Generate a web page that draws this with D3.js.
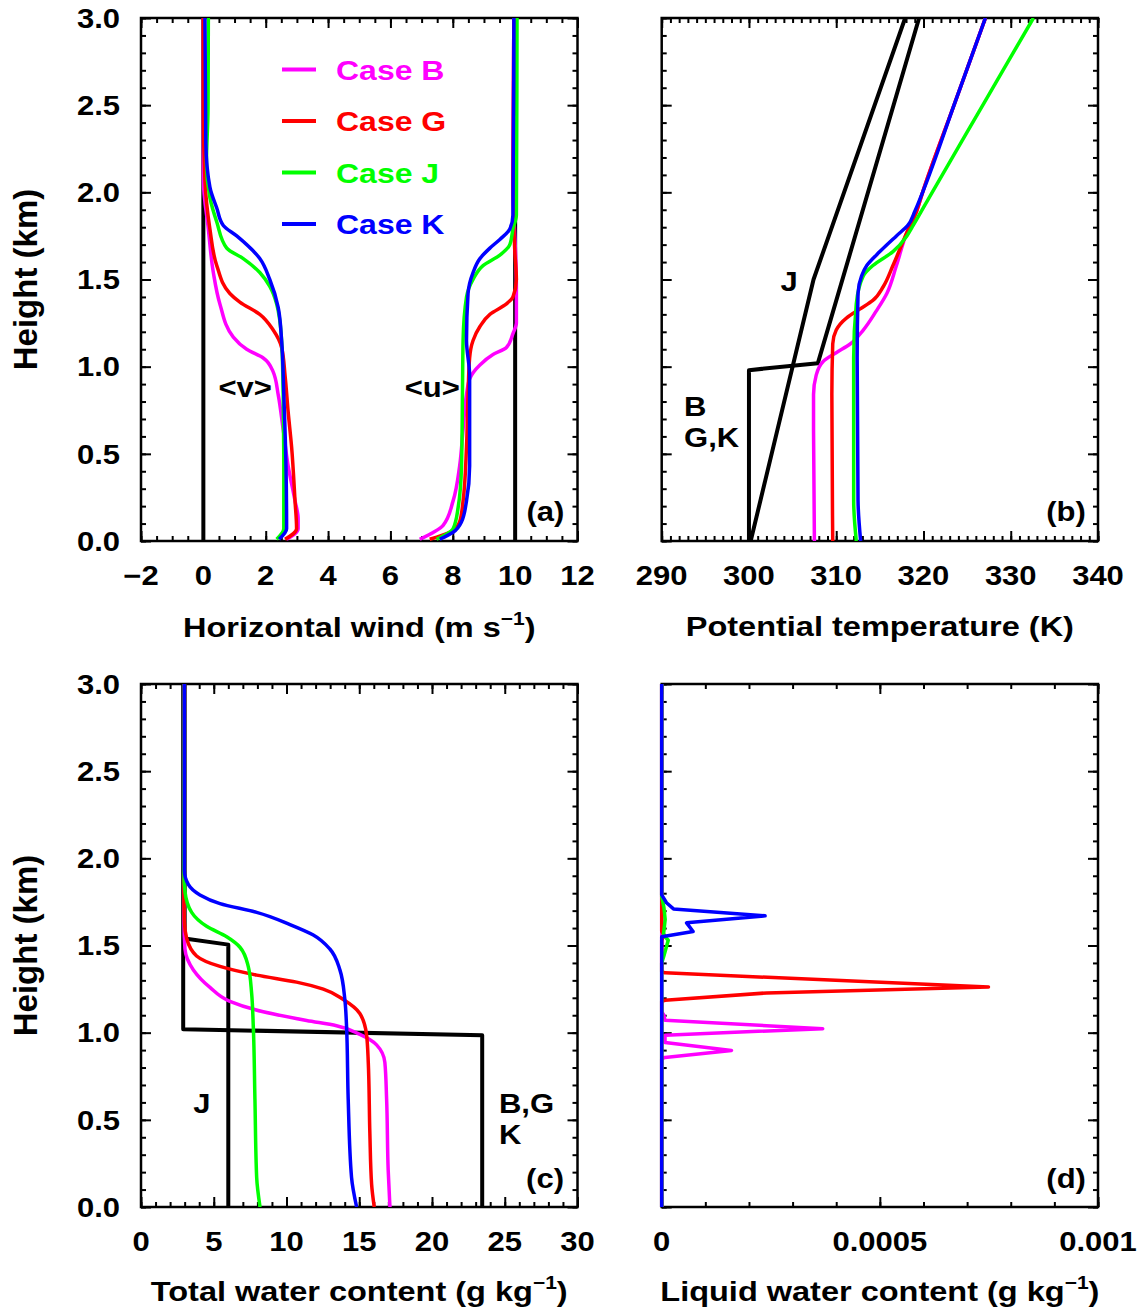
<!DOCTYPE html>
<html><head><meta charset="utf-8">
<script src="https://cdn.jsdelivr.net/npm/d3@7"></script>
<style>
body{margin:0;background:#fff}
svg{display:block}
text{font-family:"Liberation Sans",Arial,Helvetica,sans-serif;font-weight:bold;fill:#000}
</style>
</head><body>
<svg id="chart" width="1143" height="1315"></svg>
<script>
// ---------------- DATA ----------------
const heightTicks = [0, 0.5, 1, 1.5, 2, 2.5, 3];
const heightTickLabels = ["0.0", "0.5", "1.0", "1.5", "2.0", "2.5", "3.0"];
const windTicks = [-2, 0, 2, 4, 6, 8, 10, 12];
const windTickLabels = ["\u22122", "0", "2", "4", "6", "8", "10", "12"];
const thetaTicks = [290, 300, 310, 320, 330, 340];
const thetaTickLabels = ["290", "300", "310", "320", "330", "340"];
const qtTicks = [0, 5, 10, 15, 20, 25, 30];
const qtTickLabels = ["0", "5", "10", "15", "20", "25", "30"];
const qlTicks = [0, 0.0005, 0.001];
const qlTickLabels = ["0", "0.0005", "0.001"];
const caseNames = ["Case B", "Case G", "Case J", "Case K"];

// profiles: [value, height (km)]
// (a) horizontal wind
const vInit = [[0, 0], [0, 3]];
const uInit = [[10, 0], [10, 3]];
const vB = [[0.0,3.0],[0.0,2.07],[0.16,1.79],[0.32,1.54],[0.53,1.36],[0.96,1.17],[1.39,1.10],[1.92,1.05],[2.24,0.97],[2.40,0.84],[2.56,0.64],[2.72,0.43],[2.94,0.23],[3.04,0.13],[3.04,0.07],[2.67,0.01]];
const vG = [[0.0,3.0],[0.0,2.48],[0.05,2.07],[0.21,1.79],[0.43,1.58],[0.85,1.42],[1.17,1.37],[1.81,1.30],[2.24,1.21],[2.51,1.11],[2.62,0.95],[2.72,0.74],[2.83,0.54],[2.94,0.23],[2.99,0.07],[2.62,0.01]];
const vJ = [[0.16,3.0],[0.15,2.48],[0.10,2.17],[0.21,1.97],[0.43,1.83],[0.75,1.68],[1.28,1.62],[1.81,1.54],[2.13,1.46],[2.35,1.36],[2.51,1.15],[2.56,0.84],[2.58,0.43],[2.58,0.07],[2.35,0.01]];
const vK = [[0.05,3.0],[0.08,2.28],[0.21,2.03],[0.43,1.91],[0.64,1.81],[1.07,1.75],[1.81,1.62],[2.13,1.50],[2.40,1.34],[2.51,1.15],[2.58,0.84],[2.65,0.43],[2.67,0.07],[2.43,0.01]];
const uB = [[9.96,3.0],[9.93,2.07],[10.04,1.46],[10.04,1.25],[9.93,1.19],[9.72,1.11],[9.29,1.07],[8.87,1.01],[8.54,0.93],[8.44,0.84],[8.33,0.64],[8.22,0.43],[8.01,0.23],[7.69,0.09],[6.94,0.01]];
const uG = [[9.96,3.0],[9.93,2.07],[9.99,1.66],[10.04,1.50],[9.93,1.40],[9.72,1.36],[9.19,1.30],[8.87,1.23],[8.65,1.15],[8.54,1.05],[8.49,0.84],[8.44,0.54],[8.33,0.23],[8.22,0.11],[7.90,0.05],[7.26,0.01]];
const uJ = [[10.06,3.0],[10.04,1.87],[9.93,1.79],[9.83,1.70],[9.51,1.64],[8.97,1.58],[8.65,1.50],[8.44,1.40],[8.33,1.15],[8.31,0.84],[8.28,0.43],[8.17,0.19],[8.01,0.07],[7.48,0.01]];
const uK = [[9.96,3.0],[9.93,1.87],[9.83,1.79],[9.51,1.73],[9.19,1.68],[8.87,1.62],[8.65,1.54],[8.49,1.42],[8.44,1.15],[8.54,0.95],[8.54,0.74],[8.54,0.43],[8.44,0.23],[8.28,0.11],[8.01,0.05],[7.58,0.01]];

// (b) potential temperature
const thetaInitBGK = [[300.0,0.0],[300.0,0.98],[307.9,1.02],[319.5,3.0]];
const thetaInitJ = [[300.2,0.0],[307.4,1.5],[317.9,3.0]];
const thetaB = [[307.5,0.0],[307.4,0.64],[307.4,0.84],[307.7,0.95],[308.5,1.03],[310.0,1.08],[311.6,1.13],[313.1,1.21],[314.6,1.32],[315.8,1.42],[316.9,1.58],[318.1,1.77],[319.2,1.89],[319.9,2.0],[323.5,2.5],[327.1,3.0]];
const thetaG = [[309.6,0.0],[309.5,0.84],[309.6,1.13],[310.0,1.21],[311.2,1.28],[312.7,1.33],[314.2,1.38],[315.4,1.46],[316.5,1.58],[318.1,1.77],[319.2,1.89],[319.9,2.0],[323.5,2.5],[327.1,3.0]];
const thetaJ = [[312.3,0.0],[312.0,0.23],[312.0,1.05],[312.3,1.36],[313.1,1.52],[314.2,1.58],[316.5,1.66],[318.1,1.75],[318.7,1.80],[321.0,2.0],[326.8,2.5],[332.6,3.0]];
const thetaK = [[312.8,0.0],[312.5,0.23],[312.4,1.05],[312.5,1.42],[312.9,1.52],[313.5,1.58],[315.0,1.66],[316.9,1.75],[318.2,1.81],[319.0,1.89],[319.9,2.0],[323.5,2.5],[327.1,3.0]];

// (c) total water content
const qtInitBGK = [[23.45,0.0],[23.45,0.985],[2.9,1.02],[2.9,3.0]];
const qtInitJ = [[6.0,0.0],[6.0,1.505],[3.0,1.54],[3.0,3.0]];
const qtB = [[2.98,3.0],[2.95,1.64],[3.02,1.48],[3.60,1.36],[4.74,1.26],[6.11,1.18],[8.40,1.12],[11.38,1.07],[13.44,1.04],[15.04,0.99],[16.19,0.93],[16.76,0.83],[16.88,0.62],[16.99,0.21],[17.11,0.0]];
const qtG = [[2.98,3.0],[2.95,1.81],[2.98,1.64],[3.14,1.54],[3.82,1.44],[5.43,1.38],[7.95,1.33],[10.69,1.29],[12.53,1.25],[13.90,1.19],[15.04,1.11],[15.50,0.99],[15.62,0.83],[15.73,0.42],[15.85,0.13],[16.03,0.0]];
const qtJ = [[2.98,3.0],[2.95,1.91],[3.02,1.81],[3.48,1.69],[4.51,1.61],[5.89,1.55],[6.80,1.49],[7.37,1.38],[7.60,1.23],[7.72,1.03],[7.83,0.62],[7.95,0.17],[8.18,0.0]];
const qtK = [[2.98,3.0],[2.98,1.93],[3.25,1.85],[4.05,1.79],[5.43,1.74],[7.95,1.69],[10.24,1.62],[11.84,1.56],[12.98,1.48],[13.67,1.36],[14.01,1.19],[14.13,1.03],[14.24,0.62],[14.47,0.17],[14.82,0.0]];

// (d) liquid water content
const qlB = [[0,0.0],[0,0.85],[0.0000076,0.858],[0.00016,0.898],[0.0000076,0.944],[0.0000076,0.985],[0.000369,1.023],[0.0000076,1.071],[0.000005,1.10],[0,1.12],[0,3.0]];
const qlG = [[0,0.0],[0,1.18],[0.0000076,1.186],[0.000241,1.228],[0.000749,1.262],[0.0000076,1.343],[0,1.35],[0,1.53],[0.000006,1.56],[0,1.58],[0,3.0]];
const qlJ = [[0,0.0],[0,1.40],[0.000005,1.44],[0.000015,1.53],[0.000004,1.56],[0.000008,1.65],[0.000005,1.72],[0,1.78],[0,3.0]];
const qlK = [[0,0.0],[0,1.55],[0.000072,1.58],[0.000057,1.63],[0.000237,1.67],[0.000027,1.71],[0.000011,1.745],[0,1.79],[0,3.0]];

// ---------------- DRAWING ----------------
const COLORS = ["#ff00ff", "#ff0000", "#00ff00", "#0000ff"];
const svg = d3.select("#chart");
const SY = 0.87;          // vertical squash of the original lettering
const FS_TICK = 31, FS_TITLE = 32.5, FS_LEG = 32, FS_ANN = 31;

function stext(x, y, str, size, anchor, fill) {
  return svg.append("text")
    .attr("transform", `translate(${x},${y}) scale(1,${SY})`)
    .attr("text-anchor", anchor || "middle")
    .attr("font-size", size)
    .style("fill", fill || "#000")
    .text(str);
}

function title(cx, y, main, sup) {
  const t = svg.append("text")
    .attr("transform", `translate(${cx},${y}) scale(1,${SY})`)
    .attr("text-anchor", "middle")
    .attr("font-size", FS_TITLE);
  t.append("tspan").text(main);
  if (sup) {
    t.append("tspan").attr("font-size", 21).attr("dy", -14).text(sup);
    t.append("tspan").attr("font-size", FS_TITLE).attr("dy", 14).text(")");
  }
}

let clipId = 0;
function panel(box, xDom, xMaj, xMin, xLabels, labelY) {
  const x = d3.scaleLinear().domain(xDom).range([box.x0, box.x1]);
  const y = d3.scaleLinear().domain([0, 3]).range([box.y1, box.y0]);
  const g = svg.append("g");
  const yMin = d3.range(0, 31).map(i => i / 10);
  const sides = [
    [d3.axisBottom, x, `translate(0,${box.y1})`, xMaj, xMin],
    [d3.axisTop, x, `translate(0,${box.y0})`, xMaj, xMin],
    [d3.axisLeft, y, `translate(${box.x0},0)`, heightTicks, yMin],
    [d3.axisRight, y, `translate(${box.x1},0)`, heightTicks, yMin]
  ];
  sides.forEach(([ax, sc, tr, maj, min]) => {
    [[maj, -10], [min, -5]].forEach(([vals, size]) => {
      g.append("g").attr("transform", tr)
        .call(ax(sc).tickValues(vals).tickSize(size).tickSizeOuter(0).tickFormat(""))
        .call(s => s.select(".domain").remove())
        .call(s => s.selectAll("line").attr("stroke", "#000").attr("stroke-width", 2));
    });
  });
  xMaj.forEach((v, i) => stext(x(v), labelY, xLabels[i], FS_TICK, "middle"));
  svg.append("rect").attr("x", box.x0).attr("y", box.y0)
    .attr("width", box.x1 - box.x0).attr("height", box.y1 - box.y0)
    .attr("fill", "none").attr("stroke", "#000").attr("stroke-width", 2.5);
  const cid = "clip" + (clipId++);
  svg.append("clipPath").attr("id", cid).append("rect")
    .attr("x", box.x0 - 3).attr("y", box.y0)
    .attr("width", box.x1 - box.x0 + 6).attr("height", box.y1 - box.y0);
  const lines = svg.append("g").attr("clip-path", `url(#${cid})`);
  return {x, y, lines};
}

function yLabels(box, y) {
  heightTicks.forEach((v, i) => stext(box.x0 - 21, y(v) + 9.7, heightTickLabels[i], FS_TICK, "end"));
  svg.append("text")
    .attr("transform", `translate(37,${(box.y0 + box.y1) / 2}) rotate(-90)`)
    .attr("text-anchor", "middle").attr("font-size", 33)
    .text("Height (km)");
}

function drawLine(P, data, color, width, smooth) {
  const gen = d3.line().x(d => P.x(d[0])).y(d => P.y(d[1]))
    .curve(smooth ? d3.curveMonotoneY : d3.curveLinear);
  P.lines.append("path").attr("d", gen(data))
    .attr("fill", "none").attr("stroke", color).attr("stroke-width", width)
    .attr("stroke-linejoin", "round").attr("stroke-linecap", "butt");
}

const boxA = {x0: 141, x1: 577.5, y0: 18, y1: 541};
const boxB = {x0: 661.7, x1: 1098, y0: 18, y1: 541};
const boxC = {x0: 141, x1: 577.5, y0: 684, y1: 1207};
const boxD = {x0: 661.7, x1: 1098, y0: 684, y1: 1207};

// Panel (a)
const A = panel(boxA, [-2, 12], windTicks, d3.range(-2, 12.01, 0.5), windTickLabels, 584.6);
yLabels(boxA, A.y);
drawLine(A, vInit, "#000", 4, false);
drawLine(A, uInit, "#000", 4, false);
[vB, vG, vJ, vK].forEach((d, i) => drawLine(A, d, COLORS[i], 3.5, true));
[uB, uG, uJ, uK].forEach((d, i) => drawLine(A, d, COLORS[i], 3.5, true));
title((boxA.x0 + boxA.x1) / 2, 637, "Horizontal wind (m s", "\u22121");
caseNames.forEach((n, i) => {
  const ly = 69.5 + i * 51.5;
  svg.append("line").attr("x1", 282).attr("x2", 316).attr("y1", ly).attr("y2", ly)
    .attr("stroke", COLORS[i]).attr("stroke-width", 4);
  stext(336, ly + 10, n, FS_LEG, "start", COLORS[i]);
});
stext(A.x(1.34), A.y(0.883) + 9.7, "<v>", FS_ANN);
stext(A.x(7.34), A.y(0.883) + 9.7, "<u>", FS_ANN);
stext(A.x(10.97), A.y(0.172) + 9.7, "(a)", FS_ANN);

// Panel (b)
const B = panel(boxB, [290, 340], thetaTicks, d3.range(290, 340.01, 1), thetaTickLabels, 584.6);
drawLine(B, thetaInitBGK, "#000", 4, false);
drawLine(B, thetaInitJ, "#000", 4, false);
[thetaB, thetaG, thetaJ, thetaK].forEach((d, i) => drawLine(B, d, COLORS[i], 3.5, true));
title((boxB.x0 + boxB.x1) / 2, 636, "Potential temperature (K)");
stext(B.x(304.6), B.y(1.49) + 9.7, "J", FS_ANN);
stext(B.x(292.56), B.y(0.774) + 9.7, "B", FS_ANN, "start");
stext(B.x(292.56), B.y(0.597) + 9.7, "G,K", FS_ANN, "start");
stext(B.x(336.33), B.y(0.172) + 9.7, "(b)", FS_ANN);

// Panel (c)
const C = panel(boxC, [0, 30], qtTicks, d3.range(0, 30.01, 1), qtTickLabels, 1250.6);
yLabels(boxC, C.y);
drawLine(C, qtInitBGK, "#000", 4, false);
drawLine(C, qtInitJ, "#000", 4, false);
[qtB, qtG, qtJ, qtK].forEach((d, i) => drawLine(C, d, COLORS[i], 3.5, true));
title((boxC.x0 + boxC.x1) / 2, 1301, "Total water content (g kg", "\u22121");
stext(C.x(4.19), C.y(0.597) + 9.7, "J", FS_ANN);
stext(C.x(24.6), C.y(0.597) + 9.7, "B,G", FS_ANN, "start");
stext(C.x(24.6), C.y(0.419) + 9.7, "K", FS_ANN, "start");
stext(C.x(27.77), C.y(0.166) + 9.7, "(c)", FS_ANN);

// Panel (d)
const D = panel(boxD, [0, 0.001], qlTicks, d3.range(0, 11).map(i => i * 0.0001), qlTickLabels, 1250.6);
[qlB, qlG, qlJ, qlK].forEach((d, i) => drawLine(D, d, COLORS[i], 3.5, false));
title((boxD.x0 + boxD.x1) / 2, 1301, "Liquid water content (g kg", "\u22121");
stext(D.x(0.000927), D.y(0.166) + 9.7, "(d)", FS_ANN);
</script>
</body></html>
